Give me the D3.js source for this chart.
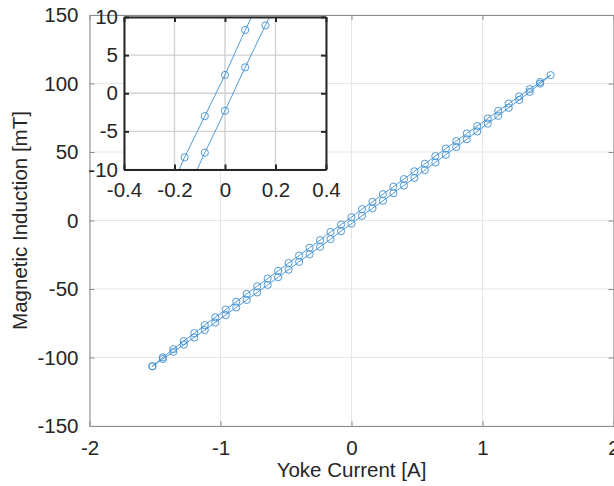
<!DOCTYPE html>
<html>
<head>
<meta charset="utf-8">
<script src="https://cdn.jsdelivr.net/npm/d3@7"></script>
<style>
  html, body { margin: 0; padding: 0; background: #fff; }
  svg { display: block; font-family: "Liberation Sans", Arial, Helvetica, sans-serif; }
</style>
</head>
<body>
<svg id="chart" width="614" height="486"></svg>
<script>
'use strict';

// ascending branch (lower), current in A, induction in mT
var currentUp = [-1.52, -1.44, -1.36, -1.28, -1.20, -1.12, -1.04, -0.96, -0.88, -0.80,
    -0.72, -0.64, -0.56, -0.48, -0.40, -0.32, -0.24, -0.16, -0.08, 0,
    0.08, 0.16, 0.24, 0.32, 0.40, 0.48, 0.56, 0.64, 0.72, 0.80,
    0.88, 0.96, 1.04, 1.12, 1.20, 1.28, 1.36, 1.44, 1.52];
var fieldUp = [-106.4, -101.1, -95.9, -90.6, -85.4, -80.0, -74.5, -69.0, -63.5, -58.0,
    -52.5, -47.0, -41.4, -35.9, -30.2, -24.7, -19.2, -13.6, -7.8, -2.3,
    3.4, 8.9, 14.4, 19.9, 25.6, 31.1, 36.8, 42.4, 48.0, 53.6,
    59.3, 65.0, 70.7, 76.4, 82.2, 88.0, 93.9, 99.9, 106.1];

// descending branch (upper)
var currentDown = [1.44, 1.36, 1.28, 1.20, 1.12, 1.04, 0.96, 0.88, 0.80, 0.72,
    0.64, 0.56, 0.48, 0.40, 0.32, 0.24, 0.16, 0.08, 0,
    -0.08, -0.16, -0.24, -0.32, -0.40, -0.48, -0.56, -0.64, -0.72, -0.80,
    -0.88, -0.96, -1.04, -1.12, -1.20, -1.28, -1.36, -1.44, -1.52];
var fieldDown = [101.1, 95.9, 90.6, 85.4, 80.0, 74.5, 69.0, 63.5, 58.0, 52.5,
    47.0, 41.4, 35.9, 30.2, 24.7, 19.2, 13.6, 8.3, 2.4,
    -3.0, -8.4, -14.4, -19.9, -25.6, -31.1, -36.8, -42.4, -48.0, -53.6,
    -59.3, -65.0, -70.7, -76.4, -82.2, -88.0, -93.9, -99.9, -106.4];

var xTicks = [-2, -1, 0, 1, 2];
var yTicks = [-150, -100, -50, 0, 50, 100, 150];
var insetXTicks = [-0.4, -0.2, 0, 0.2, 0.4];
var insetYTicks = [-10, -5, 0, 5, 10];

var points = currentUp.map(function (c, i) { return { x: c, y: fieldUp[i] }; })
    .concat(currentDown.map(function (c, i) { return { x: c, y: fieldDown[i] }; }));

var blue = '#3d8fd1';
var fontSize = 20.5;
var svg = d3.select('#chart');

function fmt(d) { return String(d); }   // plain hyphen minus, like the original

function drawAxes(g, opts) {
    var x = opts.x, y = opts.y;
    var x0 = x.range()[0], x1 = x.range()[1];
    var y0 = y.range()[0], y1 = y.range()[1];

    g.append('rect')
        .attr('x', x0).attr('y', y1)
        .attr('width', x1 - x0).attr('height', y0 - y1)
        .attr('fill', '#fff');

    // grid
    g.append('g').selectAll('line').data(opts.xTicks).join('line')
        .attr('x1', function (d) { return x(d); }).attr('x2', function (d) { return x(d); })
        .attr('y1', y0).attr('y2', y1)
        .attr('stroke', opts.gridColor).attr('stroke-width', opts.gridWidth);
    g.append('g').selectAll('line').data(opts.yTicks).join('line')
        .attr('y1', function (d) { return y(d); }).attr('y2', function (d) { return y(d); })
        .attr('x1', x0).attr('x2', x1)
        .attr('stroke', opts.gridColor).attr('stroke-width', opts.gridWidth);

    // data
    var clipId = opts.clipId;
    g.append('clipPath').attr('id', clipId).append('rect')
        .attr('x', x0).attr('y', y1).attr('width', x1 - x0).attr('height', y0 - y1);
    var plot = g.append('g').attr('clip-path', 'url(#' + clipId + ')');
    var line = d3.line().x(function (d) { return x(d.x); }).y(function (d) { return y(d.y); });
    plot.append('path').datum(points)
        .attr('d', line)
        .attr('fill', 'none').attr('stroke', blue).attr('stroke-width', 0.9);
    plot.selectAll('circle').data(points).join('circle')
        .attr('cx', function (d) { return x(d.x); })
        .attr('cy', function (d) { return y(d.y); })
        .attr('r', 3.6)
        .attr('fill', 'none').attr('stroke', blue).attr('stroke-width', 0.9);

    // axes with inward ticks
    var bottom = g.append('g').attr('transform', 'translate(0,' + y0 + ')')
        .call(d3.axisBottom(x).tickValues(opts.xTicks).tickSizeInner(-opts.tickLen).tickSizeOuter(0)
            .tickFormat(fmt));
    var left = g.append('g').attr('transform', 'translate(' + x0 + ',0)')
        .call(d3.axisLeft(y).tickValues(opts.yTicks).tickSizeInner(-opts.tickLen).tickSizeOuter(0)
            .tickFormat(fmt));
    var top = g.append('g').attr('transform', 'translate(0,' + y1 + ')')
        .call(d3.axisTop(x).tickValues(opts.xTicks).tickSizeInner(-opts.tickLen).tickSizeOuter(0).tickFormat(''));
    var right = g.append('g').attr('transform', 'translate(' + x1 + ',0)')
        .call(d3.axisRight(y).tickValues(opts.yTicks).tickSizeInner(-opts.tickLen).tickSizeOuter(0).tickFormat(''));

    [bottom, left, top, right].forEach(function (a) {
        a.select('.domain').attr('stroke', opts.axisColor).attr('stroke-width', opts.axisWidth);
        a.selectAll('.tick line').attr('stroke', opts.axisColor).attr('stroke-width', opts.axisWidth);
        a.selectAll('text').attr('fill', '#262626')
            .style('font-size', fontSize + 'px')
            .style('font-family', '"Liberation Sans", Arial, sans-serif');
    });
    bottom.selectAll('.tick text').attr('dy', '0.71em').attr('y', opts.xLabelGap);
    left.selectAll('.tick text').attr('x', -opts.yLabelGap);
    return { bottom: bottom, left: left };
}

// main axes
var x = d3.scaleLinear().domain([-2, 2]).range([89.5, 613.5]);
var y = d3.scaleLinear().domain([-150, 150]).range([426, 15]);
drawAxes(svg.append('g'), {
    x: x, y: y, xTicks: xTicks, yTicks: yTicks,
    gridColor: '#e6e6e6', gridWidth: 1,
    axisColor: '#8c8c8c', axisWidth: 1,
    tickLen: 5, clipId: 'clip-main',
    xLabelGap: 14, yLabelGap: 11
});

svg.append('text')
    .attr('x', (x(-2) + x(2)) / 2).attr('y', 477)
    .attr('text-anchor', 'middle')
    .attr('fill', '#262626').style('font-size', fontSize + 'px')
    .text('Yoke Current [A]');
svg.append('text')
    .attr('transform', 'translate(27,' + (y(0)) + ') rotate(-90)')
    .attr('text-anchor', 'middle')
    .attr('fill', '#262626').style('font-size', fontSize + 'px')
    .text('Magnetic Induction [mT]');

// inset axes
var xi = d3.scaleLinear().domain([-0.4, 0.4]).range([124, 326]);
var yi = d3.scaleLinear().domain([-10, 10]).range([169.5, 17]);
drawAxes(svg.append('g'), {
    x: xi, y: yi, xTicks: insetXTicks, yTicks: insetYTicks,
    gridColor: '#d2d2d2', gridWidth: 1.4,
    axisColor: '#262626', axisWidth: 2,
    tickLen: 5, clipId: 'clip-inset',
    xLabelGap: 13, yLabelGap: 6
});
</script>
</body>
</html>
